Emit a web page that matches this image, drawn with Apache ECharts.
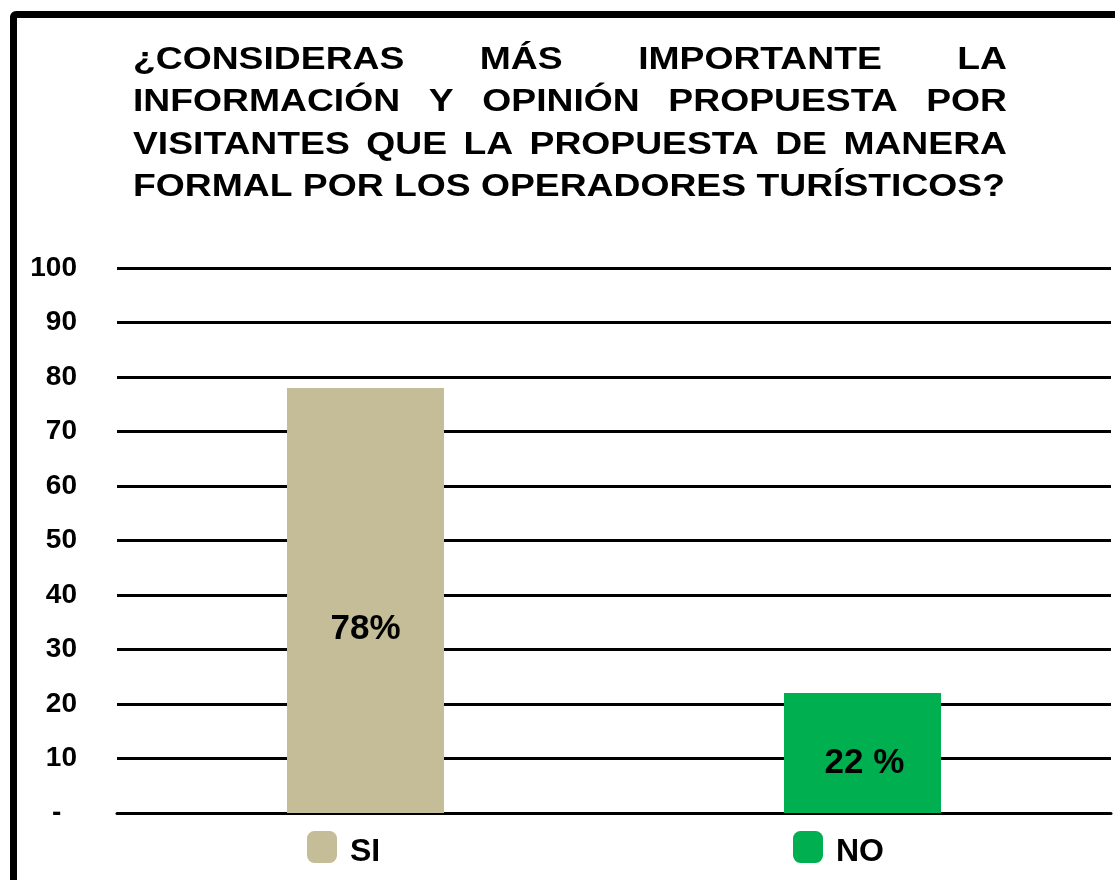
<!DOCTYPE html>
<html>
<head>
<meta charset="utf-8">
<script src="https://cdn.jsdelivr.net/npm/echarts@6/dist/echarts.min.js"></script>
<style>
html,body{margin:0;padding:0;background:#fff;overflow:hidden;}
#frame{position:absolute;left:10px;top:11px;width:1300px;height:1100px;border:7px solid #000;border-radius:6px;box-sizing:border-box;}
#chart{position:absolute;left:0;top:0;width:1115px;height:880px;}
</style>
</head>
<body>
<div id="frame"></div>
<div id="chart"></div>
<script>
// ---- data ----
const categories = ['SI', 'NO'];
const values = [78, 22];
const valueLabels = ['78%', '22 %'];
const colors = ['#C4BD97', '#00B050'];
const yMin = 0, yMax = 100, yInterval = 10;
const titleLines = [
  ['¿CONSIDERAS', 'MÁS', 'IMPORTANTE', 'LA'],
  ['INFORMACIÓN', 'Y', 'OPINIÓN', 'PROPUESTA', 'POR'],
  ['VISITANTES', 'QUE', 'LA', 'PROPUESTA', 'DE', 'MANERA'],
  ['FORMAL', 'POR', 'LOS', 'OPERADORES', 'TURÍSTICOS?']
];

// ---- justified title built from measured words ----
const FONT_FAMILY = '"Liberation Sans", Arial, sans-serif';
const titleFont = 'bold 32px ' + FONT_FAMILY;
const titleScaleX = 1.165;
const titleLeft = 133, titleRight = 1007, titleTop = 60, titleLineH = 42.5;
const ctx = document.createElement('canvas').getContext('2d');
ctx.font = titleFont;
const spaceW = ctx.measureText(' ').width * titleScaleX;
const titleGraphics = [];
titleLines.forEach((words, li) => {
  const widths = words.map(w => ctx.measureText(w).width * titleScaleX);
  const total = widths.reduce((a, b) => a + b, 0);
  const last = li === titleLines.length - 1;
  const gap = last ? spaceW : (titleRight - titleLeft - total) / (words.length - 1);
  let x = titleLeft;
  words.forEach((w, i) => {
    titleGraphics.push({
      type: 'text',
      x: x,
      y: titleTop + li * titleLineH,
      scaleX: titleScaleX,
      style: { text: w, x: 0, y: 0, font: titleFont, fill: '#000', verticalAlign: 'middle', align: 'left' }
    });
    x += widths[i] + gap;
  });
});

const labelOffsets = [[0, 29], [2, 10]];
const series = categories.map((name, i) => ({
  name: name,
  type: 'bar',
  stack: 'all',
  barWidth: 157,
  itemStyle: { color: colors[i] },
  data: categories.map((c, j) => j === i ? values[i] : '-'),
  label: {
    show: true,
    position: 'inside',
    offset: labelOffsets[i],
    formatter: () => valueLabels[i],
    color: '#000',
    fontSize: 35,
    fontWeight: 'bold',
    fontFamily: FONT_FAMILY
  }
}));

const legendLefts = [307, 793];
const legends = categories.map((name, i) => ({
  data: [name],
  left: legendLefts[i],
  top: 831,
  padding: 0,
  icon: 'roundRect',
  itemWidth: 30,
  itemHeight: 32,
  formatter: n => '{t|' + n + '}',
  textStyle: {
    color: '#000', fontSize: 32, fontWeight: 'bold', fontFamily: FONT_FAMILY,
    rich: { t: { color: '#000', fontSize: 32, fontWeight: 'bold', fontFamily: FONT_FAMILY, padding: [10, 0, 0, 8] } }
  },
  selectedMode: false
}));

const chart = echarts.init(document.getElementById('chart'), null, { renderer: 'canvas' });
chart.setOption({
  backgroundColor: 'transparent',
  animation: false,
  graphic: titleGraphics,
  legend: legends,
  grid: { left: 117, right: 4, top: 268, bottom: 67 },
  xAxis: {
    type: 'category',
    data: categories,
    axisLine: { show: true, lineStyle: { color: '#000', width: 3 } },
    axisTick: { show: false },
    axisLabel: { show: false }
  },
  yAxis: {
    type: 'value',
    min: yMin, max: yMax, interval: yInterval,
    axisLine: { show: false },
    axisTick: { show: false },
    splitLine: { show: true, lineStyle: { color: '#000', width: 3 } },
    axisLabel: {
      margin: 40,
      color: '#000',
      fontSize: 28,
      fontWeight: 'bold',
      fontFamily: FONT_FAMILY,
      formatter: v => v === 0 ? '-  ' : String(v)
    }
  },
  series: series
});
</script>
</body>
</html>
